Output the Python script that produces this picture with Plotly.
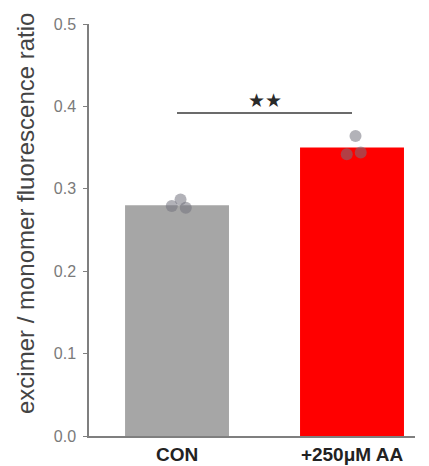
import plotly.graph_objects as go

categories = ["CON", "+250μM AA"]
bar_values = [0.280, 0.350]
bar_colors = ["#a6a6a6", "#ff0000"]
points_con = [0.287, 0.277, 0.279]
points_aa = [0.364, 0.344, 0.342]
point_offsets = [0.02, 0.05, -0.03]
yticks = [0.0, 0.1, 0.2, 0.3, 0.4, 0.5]
sig_y = 0.392
sig_label = "★★"
y_title = "excimer / monomer fluorescence ratio"

xpos = [0, 1]
fig = go.Figure()
fig.add_trace(go.Bar(x=xpos, y=bar_values, marker_color=bar_colors, width=0.594,
                     marker_line_width=0, showlegend=False))
for i, pts in enumerate([points_con, points_aa]):
    fig.add_trace(go.Scatter(x=[xpos[i] + o for o in point_offsets], y=pts, mode="markers",
                             marker=dict(size=12, color="rgba(115,115,125,0.55)"),
                             showlegend=False))
fig.add_trace(go.Scatter(x=[0, 1], y=[sig_y, sig_y], mode="lines",
                         line=dict(color="#3a3a3a", width=1.5), showlegend=False))
fig.add_annotation(x=0.5, y=sig_y, text=sig_label, showarrow=False, yshift=13,
                   font=dict(size=19, color="#2a2a2a", family="DejaVu Sans"))
fig.add_annotation(xref="paper", yref="paper", x=-0.193, y=0.539, text=y_title,
                   textangle=-90, showarrow=False, xanchor="center", yanchor="middle",
                   font=dict(size=24, color="#444444"))

fig.update_layout(
    width=421, height=458, plot_bgcolor="white", paper_bgcolor="white",
    margin=dict(l=81, r=14, t=16, b=30, autoexpand=False),
    font=dict(family="Liberation Sans, Arial, sans-serif"),
)
fig.update_xaxes(range=[-0.503, 1.36], tickvals=xpos, ticktext=categories,
                 showline=True, linecolor="#7f7f7f", linewidth=1.5, showgrid=False,
                 ticks="outside", ticklen=0, tickcolor="#7f7f7f", zeroline=False,
                 tickfont=dict(size=19, color="#222222", weight="bold"))
fig.update_yaxes(range=[0, 0.5], tickvals=yticks, ticktext=[f"{v:.1f}" for v in yticks],
                 showline=True, linecolor="#7f7f7f", linewidth=1.5, showgrid=False,
                 ticks="outside", ticklen=4, tickcolor="#7f7f7f", zeroline=False,
                 ticklabelstandoff=4,
                 tickfont=dict(size=16, color="#7a7a7a"))
fig.write_html("out.html")
